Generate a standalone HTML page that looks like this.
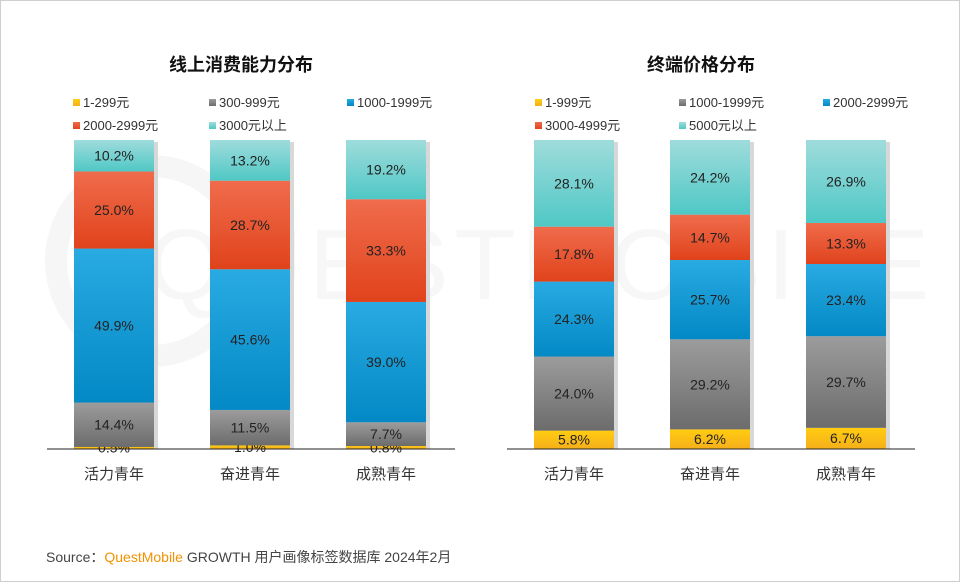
<!DOCTYPE html>
<html><head><meta charset="utf-8"><style>
body{margin:0;background:#fff}
#root{position:relative;width:958px;height:580px;border:1px solid #cfcfcf;overflow:hidden;font-family:"Liberation Sans","Noto Sans CJK SC",sans-serif}
svg text{font-family:"Liberation Sans","Noto Sans CJK SC",sans-serif}
</style></head><body>
<div id="root">
<svg id="svg" width="958" height="580">
<defs>
<linearGradient id="g0" x1="0" y1="0" x2="0" y2="1"><stop offset="0" stop-color="#ffcc11"/><stop offset="1" stop-color="#f6b01a"/></linearGradient>
<linearGradient id="g1" x1="0" y1="0" x2="0" y2="1"><stop offset="0" stop-color="#9c9c9c"/><stop offset="1" stop-color="#6c6c6c"/></linearGradient>
<linearGradient id="g2" x1="0" y1="0" x2="0" y2="1"><stop offset="0" stop-color="#29aae2"/><stop offset="1" stop-color="#0389c5"/></linearGradient>
<linearGradient id="g3" x1="0" y1="0" x2="0" y2="1"><stop offset="0" stop-color="#f06c4c"/><stop offset="1" stop-color="#e0431c"/></linearGradient>
<linearGradient id="g4" x1="0" y1="0" x2="0" y2="1"><stop offset="0" stop-color="#9fdcdc"/><stop offset="1" stop-color="#4fc8c5"/></linearGradient>
</defs>
<circle cx="150" cy="260" r="95" fill="none" stroke="#f6f6f6" stroke-width="22"/>
<text x="540" y="298" text-anchor="middle" font-size="100" fill="#f7f7f7" letter-spacing="6">QUESTMOBILE</text>
</svg>
</div>
<script>
const ns="http://www.w3.org/2000/svg";
const svg=document.getElementById('svg');
const categories=["活力青年","奋进青年","成熟青年"];
const leftTitle="线上消费能力分布";
const leftSeries=["1-299元","300-999元","1000-1999元","2000-2999元","3000元以上"];
const leftVals=[[0.5,1.0,0.8],[14.4,11.5,7.7],[49.9,45.6,39.0],[25.0,28.7,33.3],[10.2,13.2,19.2]];
const rightTitle="终端价格分布";
const rightSeries=["1-999元","1000-1999元","2000-2999元","3000-4999元","5000元以上"];
const rightVals=[[5.8,6.2,6.7],[24.0,29.2,29.7],[24.3,25.7,23.4],[17.8,14.7,13.3],[28.1,24.2,26.9]];
function mk(tag,attrs,parent){const e=document.createElementNS(ns,tag);for(const k in attrs)e.setAttribute(k,attrs[k]);(parent||svg).appendChild(e);return e;}
function chart(ox,title,series,vals,key,lx){
  const base=447.5,top=139,H=base-top;
  const y=v=>base-v/100*H;
  const xc=i=>ox+67+i*136;
  const t=mk('text',{x:ox+194,y:70,'text-anchor':'middle','font-size':18,'font-weight':'bold',fill:'#111'});
  t.textContent=title;
  
  
  series.forEach((s,j)=>{
    const px=ox+lx[j%3],py=j<3?103:126;
    const r=mk('rect',{x:px,y:py-5,width:7,height:7,fill:'url(#g'+j+')'});
    
    
    const tx=mk('text',{x:px+10,y:py+3,'font-size':13,fill:'#333'});tx.textContent=s;
    
    
  });
  categories.forEach((c,i)=>{
    let cum=0;
    const total=vals.reduce((a,v)=>a+v[i],0);
    const sh=mk('rect',{x:xc(i)-40+4,y:y(total)+2,width:80,height:H*total/100-2,fill:'#d8d8d8'});
    
    
    vals.forEach((v,j)=>{
      const y1=y(cum+v[i]),y0=y(cum);
      const r=mk('rect',{x:xc(i)-40,y:y1,width:80,height:y0-y1,fill:'url(#g'+j+')'});
      
      
      const tx=mk('text',{x:xc(i),y:Math.min((y0+y1)/2+5,base+5),'text-anchor':'middle','font-size':14,fill:'#222'});
      tx.textContent=v[i].toFixed(1)+'%';
      
      
      cum+=v[i];
    });
    const cl=mk('text',{x:xc(i),y:478,'text-anchor':'middle','font-size':15,fill:'#333'});
    cl.textContent=c;
    
    
  });
  const ax=mk('line',{x1:ox,x2:ox+408,y1:base+0.5,y2:base+0.5,stroke:'#222','stroke-width':1});
  
  
}
chart(46,leftTitle,leftSeries,leftVals,'left',[26,162,300]);
chart(506,rightTitle,rightSeries,rightVals,'right',[28,172,316]);
const s=mk('text',{x:45,y:561,'font-size':14,fill:'#444'});
s.innerHTML='Source：<tspan fill="#f39200">QuestMobile</tspan> GROWTH 用户画像标签数据库 2024年2月';


</script>
</body></html>
